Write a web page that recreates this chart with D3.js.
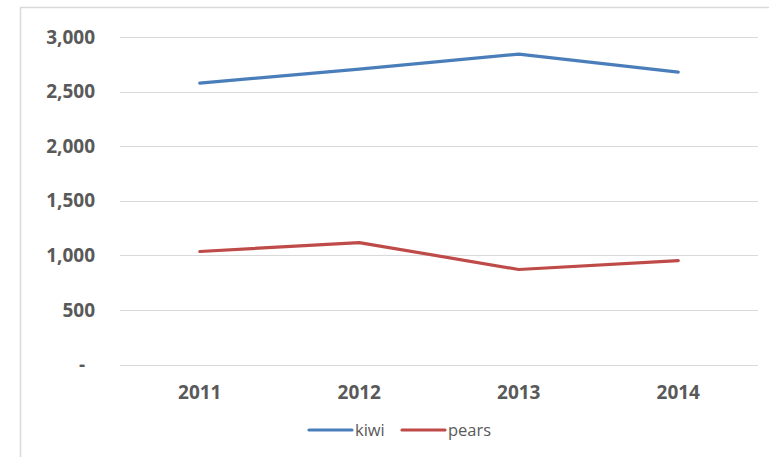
<!DOCTYPE html>
<html><head><meta charset="utf-8">
<script src="https://cdn.jsdelivr.net/npm/d3@7"></script>
<style>
html,body{margin:0;padding:0;background:#fff;}
svg{display:block;}
text{font-family:"Open Sans","Liberation Sans",sans-serif;fill:#595959;}
</style></head><body>
<svg id="c" width="769" height="457"></svg>
<script>
const categories = ["2011","2012","2013","2014"];
const kiwi = [2578, 2706, 2843, 2679];
const pears = [1035, 1117, 870, 952];
const yTicks = [0, 500, 1000, 1500, 2000, 2500, 3000];
const seriesNames = ["kiwi","pears"];
const seriesColors = ["#4a7ebb","#be4b48"];

const svg = d3.select("#c");
// outer frame
svg.append("path").attr("d","M20.5,457 V7.5 H769").attr("fill","none").attr("stroke","#d9d9d9").attr("stroke-width",1.5);

const x = d3.scaleBand().domain(categories).range([120,758]);
const y = d3.scaleLinear().domain([0,3000]).range([364.5,37]);

// gridlines
svg.append("g").selectAll("line").data(yTicks).join("line")
  .attr("x1",120).attr("x2",758)
  .attr("y1",d=>Math.round(y(d))+0.5).attr("y2",d=>Math.round(y(d))+0.5)
  .attr("stroke","#d9d9d9").attr("stroke-width",1);

// y axis labels
const yAxis = d3.axisLeft(y).tickValues(yTicks).tickSize(0).tickPadding(0)
  .tickFormat(d=> d===0 ? "-" : d3.format(",")(d));
const gy = svg.append("g").attr("transform","translate(95,0)").call(yAxis);
gy.select(".domain").remove();
gy.selectAll("text").attr("font-size",19).attr("font-weight","bold").attr("fill","#595959")
  .style("font-family",'"Open Sans","Liberation Sans",sans-serif');
gy.selectAll("text").filter(d=>d===0).attr("dx",-10);

// x axis labels
const xAxis = d3.axisBottom(x).tickSize(0).tickPadding(0);
const gx = svg.append("g").attr("transform","translate(0,392)").call(xAxis);
gx.select(".domain").remove();
gx.selectAll("text").attr("font-size",19).attr("font-weight","bold").attr("fill","#595959")
  .attr("y",0).attr("dy","0.35em")
  .style("font-family",'"Open Sans","Liberation Sans",sans-serif');

// lines
const line = d3.line().x((d,i)=>x(categories[i])+x.bandwidth()/2).y(d=>y(d));
[kiwi,pears].forEach((s,i)=>{
  svg.append("path").datum(s).attr("d",line).attr("fill","none")
    .attr("stroke",seriesColors[i]).attr("stroke-width",3.2).attr("stroke-linecap","round").attr("stroke-linejoin","round");
});

// legend
const legX = [309, 402];
seriesNames.forEach((n,i)=>{
  const g = svg.append("g").attr("transform",`translate(${legX[i]},430)`);
  g.append("line").attr("x1",0).attr("x2",43).attr("y1",0).attr("y2",0)
    .attr("stroke",seriesColors[i]).attr("stroke-width",3.2).attr("stroke-linecap","round");
  g.append("text").attr("x",46).attr("y",0).attr("dy","0.35em").attr("font-size",16.5).text(n);
});
</script>
</body></html>
